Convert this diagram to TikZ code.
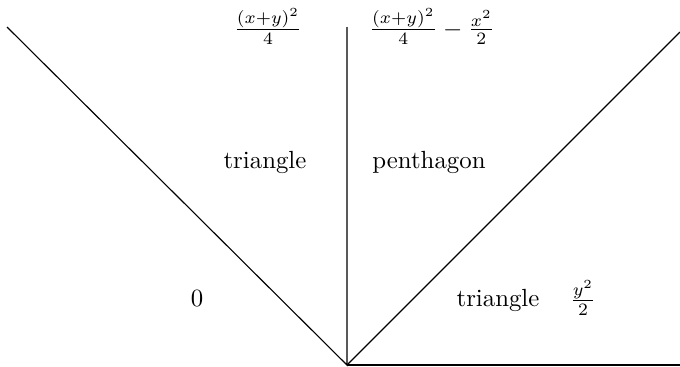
\documentclass[tikz,border=0pt]{standalone}
\begin{document}
\begin{tikzpicture}[x=0.403pt,y=-0.403pt,
  lbl/.style={inner sep=0pt,anchor=base},
  edge/.style={line width=0.45pt}]
\useasboundingbox (0,0) rectangle (680,367);
\coordinate (O) at (347,365);
\coordinate (L) at (7,27);
\coordinate (T) at (347,27);
\coordinate (R) at (680,32);
\coordinate (H) at (680,365);
\draw[edge] (L) -- (O) -- (T);
\draw[edge] (O) -- (R);
\draw[edge] (O) -- (H);
\node[lbl] (f1) at (268,36) {$\frac{(x+y)^2}{4}$};
\node[lbl] (f2) at (432,36) {$\frac{(x+y)^2}{4}-\frac{x^2}{2}$};
\node[lbl] (t1) at (265,168) {triangle};
\node[lbl] (p1) at (429,168) {penthagon};
\node[lbl] (z) at (197,306) {0};
\node[lbl] (t2) at (498,306) {triangle};
\node[lbl] (f3) at (583,307) {$\frac{y^2}{2}$};
\end{tikzpicture}
\end{document}
